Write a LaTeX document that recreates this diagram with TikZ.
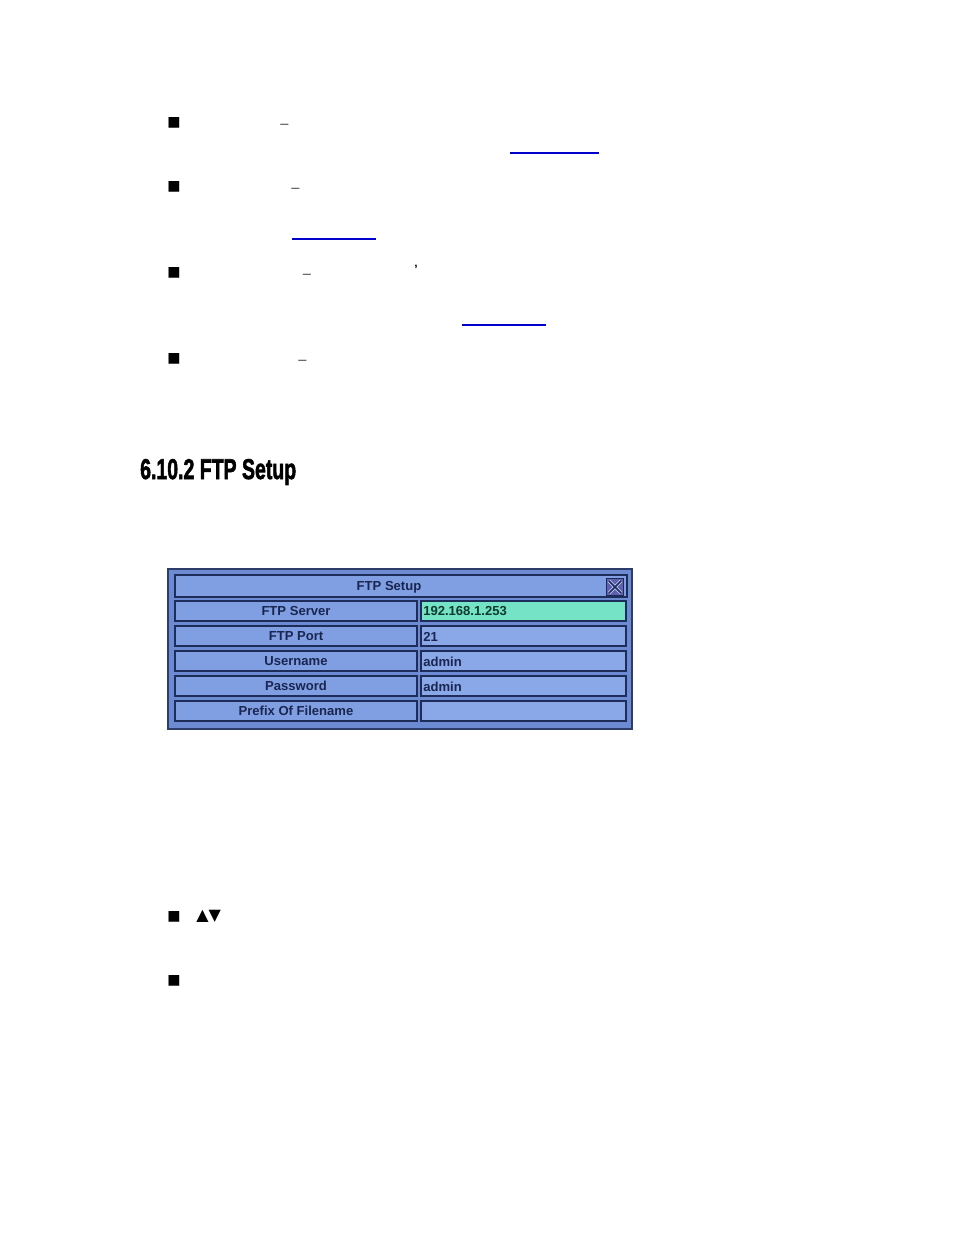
\documentclass[tikz,border=0pt]{standalone}
\usepackage{fontspec}
\setmainfont{Liberation Sans}
\newfontfamily\djv{DejaVu Sans}
\newfontfamily\headfont{Liberation Sans Bold}[FakeBold=2.2]
\definecolor{panelfill}{HTML}{6C8BD3}
\definecolor{panelline}{HTML}{2E3C6A}
\definecolor{boxfill}{HTML}{809EE2}
\definecolor{boxline}{HTML}{1E2C5A}
\definecolor{valfill}{HTML}{8AA8E8}
\definecolor{hilite}{HTML}{74E3C6}
\definecolor{navytext}{HTML}{1A2650}
\definecolor{greentext}{HTML}{0F3A2C}
\definecolor{linkblue}{HTML}{0000CC}
\definecolor{dashgray}{HTML}{444444}
\definecolor{closefill}{HTML}{6060B0}
\definecolor{closex}{HTML}{B8C4F0}
\tikzset{
  bulletmark/.style={inner sep=0pt, font=\djv\fontsize{10.5}{10.5}\selectfont},
  dashmark/.style={inner sep=0pt, anchor=base, text=dashgray, font=\fontsize{11}{11}\selectfont},
  linkline/.style={draw=linkblue, line width=1.1pt},
  labelbox/.style={draw=boxline, line width=1.5pt, fill=boxfill, minimum width={242*0.75pt}, minimum height={20*0.75pt}, inner sep=0pt, text=navytext, font=\bfseries\fontsize{9.8}{10}\selectfont},
  valuebox/.style={draw=boxline, line width=1.5pt, fill=valfill, minimum width={205*0.75pt}, minimum height={20*0.75pt}, inner sep=0pt},
  valuetext/.style={anchor=west, inner sep=0pt, text=navytext, font=\bfseries\fontsize{9.8}{10}\selectfont},
}
\begin{document}
\begin{tikzpicture}[x=0.75pt,y=-0.75pt]
\useasboundingbox (0,0) rectangle (954,1235);
\fill[white] (0,0) rectangle (954,1235);

% top bullets
\node[bulletmark] (b1) at (174,122.5) {■};
\node[bulletmark] (b2) at (174,186.5) {■};
\node[bulletmark] (b3) at (174,272.5) {■};
\node[bulletmark] (b4) at (174,358.5) {■};
\node[dashmark] (d1) at (284.5,128) {–};
\node[dashmark] (d2) at (295.5,192) {–};
\node[dashmark] (d3) at (307,278) {–};
\node[dashmark] (d4) at (302.5,364) {–};
\node[inner sep=0pt, font=\bfseries\fontsize{9}{9}\selectfont] (ap) at (416,269) {’};

% link underlines
\coordinate (u1a) at (510,153); \coordinate (u1b) at (599,153);
\coordinate (u2a) at (292,239); \coordinate (u2b) at (376,239);
\coordinate (u3a) at (462,325); \coordinate (u3b) at (546,325);
\draw[linkline] (u1a) -- (u1b);
\draw[linkline] (u2a) -- (u2b);
\draw[linkline] (u3a) -- (u3b);

% heading
\node[anchor=west, inner sep=0pt, xscale=0.68, font=\headfont\fontsize{21.5}{22}\selectfont] (head) at (140,472) {6.10.2 FTP Setup};

% panel
\node[draw=panelline, line width=1.5pt, fill=panelfill, minimum width={464*0.75pt}, minimum height={160*0.75pt}, inner sep=0pt] (panel) at (400,649) {};
\node[draw=boxline, line width=1.5pt, fill=boxfill, minimum width={452*0.75pt}, minimum height={22*0.75pt}, inner sep=0pt] (title) at (401,586) {};
\node[inner sep=0pt, text=navytext, font=\bfseries\fontsize{9.8}{10}\selectfont] (titletext) at (389,587) {FTP Setup};
\node[draw=boxline, line width=1pt, fill=closefill, minimum width={17*0.75pt}, minimum height={17*0.75pt}, inner sep=0pt] (close) at (615,587) {};
\draw[closex, line width=2.6pt] ([shift={(3,3)}]close.north west) -- ([shift={(-3,-3)}]close.south east);
\draw[closex, line width=2.6pt] ([shift={(3,-3)}]close.south west) -- ([shift={(-3,3)}]close.north east);
\draw[boxline, line width=1.2pt] ([shift={(3,3)}]close.north west) -- ([shift={(-3,-3)}]close.south east);
\draw[boxline, line width=1.2pt] ([shift={(3,-3)}]close.south west) -- ([shift={(-3,3)}]close.north east);

% rows
\node[labelbox] (l1) at (296,611) {FTP Server};
\node[labelbox] (l2) at (296,636) {FTP Port};
\node[labelbox] (l3) at (296,661) {Username};
\node[labelbox] (l4) at (296,686) {Password};
\node[labelbox] (l5) at (296,711) {Prefix Of Filename};

\node[valuebox, fill=hilite] (v1) at (523.5,611) {};
\node[valuebox] (v2) at (523.5,636) {};
\node[valuebox] (v3) at (523.5,661) {};
\node[valuebox] (v4) at (523.5,686) {};
\node[valuebox] (v5) at (523.5,711) {};

\node[valuetext, text=greentext] (t1) at (423,611.5) {192.168.1.253};
\node[valuetext] (t2) at (423,636.5) {21};
\node[valuetext] (t3) at (423,661.5) {admin};
\node[valuetext] (t4) at (423,686.5) {admin};

% bottom bullets
\node[bulletmark] (b5) at (174,916.5) {■};
\node[bulletmark] (b6) at (174,980.5) {■};
\node[anchor=west, inner sep=0pt, font=\djv\fontsize{12}{12}\selectfont] (arrows) at (196,916) {▲▼};
\end{tikzpicture}
\end{document}
